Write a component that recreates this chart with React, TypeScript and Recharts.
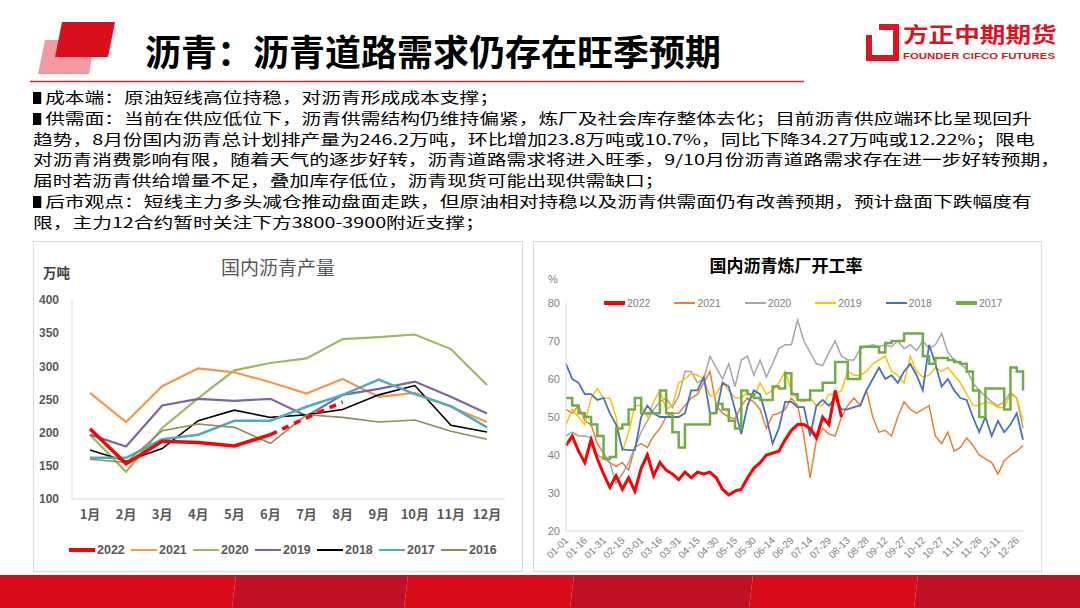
import React from "react";
import { LineChart, Line, XAxis, YAxis } from "recharts";

// ---- 国内沥青产量 (万吨) ----
const months = ["1月", "2月", "3月", "4月", "5月", "6月", "7月", "8月", "9月", "10月", "11月", "12月"];
const output2022 = [206, 153, 187, 185, 180, 197, null, null, null, null, null, null];
const output2022Plan = [null, null, null, null, null, 197, 222.4, 246.2, null, null, null, null];
const output2021 = [260, 216, 270, 297, 291, 276, 259, 281, 254, 260, 239, 216];
const output2020 = [197, 141, 207, 252, 294, 305, 312, 341, 344, 348, 326, 272];
const output2019 = [197, 179, 241, 251, 248, 251, 225, 257, 266, 277, 254, 229];
const output2018 = [174, 157, 176, 218, 234, 223, 227, 235, 257, 271, 211, 201];
const output2017 = [162, 162, 190, 197, 218, 218, 239, 257, 280, 258, 240, 208];
const output2016 = [160, 155, 203, 213, 208, 184, 227, 223, 216, 219, 202, 190];
const outputTicks = [100, 150, 200, 250, 300, 350, 400];

// ---- 国内沥青炼厂开工率 (%), sampled every 5 days ----
const rate2022 = [42.5, 45, 41, 38, 44, 39, 35, 31.5, 34.5, 31, 34, 30.5, 36.5, 40, 34.5, 38, 36, 35, 33.5, 35.5,
  34, 35.5, 35, 35.5, 34, 31, 29.5, 30.5, 31, 34, 36.5, 38, 40, 40.5, 41, 44, 46.5, 48, 48, 47, 44.5, 50, 48, 57, 50];
const rate2021 = [52, 51, 53, 49, 48, 43, 40.5, 38, 37, 38, 36, 42, 43, 42, 45, 47, 50, 51, 51, 53,
  55, 56, 59, 62, 53, 51, 50, 49.5, 53, 55, 54, 52, 47, 50.5, 51, 52, 55, 53, 45, 34,
  44, 47, 45.5, 45, 50, 53, 55, 53, 57, 50, 46, 46.5, 45, 50, 54, 52, 51, 52, 53, 45,
  43, 46, 41, 42, 44.5, 42.5, 40, 39, 38, 35, 38.5, 40, 41, 42.5];
const rate2020 = [45, 46, 45, 45, 44.5, 40, 39, 38, 32.5, 35, 38, 42, 46, 49, 52, 54, 55, 52.5, 55.5, 62,
  62, 59, 60, 66, 63, 60, 64, 58, 65, 66, 61, 65, 60.5, 64, 68, 69, 69, 75.5, 70, 67,
  64, 63.5, 67, 70, 66, 65, 65, 68, 68.5, 69, 68.5, 69, 68.5, 70, 68, 69, 67.5, 70, 68, 69,
  72, 67, 65, 64, 62.5, 59, 57, 55.5, 54, 53, 54, 56.5, 55, 47];
const rate2019 = [48, 52, 50, 48, 55, 57.5, 55, 55, 50, 41, 46, 53, 53, 50, 54, 57, 52, 53, 59, 60,
  61.5, 61, 60, 55.5, 56, 59, 57, 55, 55, 56.5, 55, 59, 56, 57, 59, 62, 57, 54.5, 54, 55,
  53, 53, 56, 56, 57, 62, 61, 61, 62, 64, 65, 66, 62, 61, 59, 66, 62, 60.5, 61, 63,
  62, 63, 61, 59, 56, 53, 53, 54, 53.5, 52.5, 52.5, 56, 55, 49];
const rate2018 = [64, 60, 59, 56, 56, 54.5, 55, 51, 48, 41.5, 41.3, 41.3, 50, 53, 51, 50, 50, 50, 50, 51,
  57, 57, 60.5, 51, 51, 59, 58, 52, 45.5, 53, 57, 56, 50, 43, 47, 54, 54, 52.6, 52.6, 45,
  53, 54.5, 53, 55, 52, 52, 52.6, 53, 57, 60, 63, 60, 61, 59, 62, 64, 61, 57, 69, 64,
  58, 60, 57, 55, 54.5, 50, 46, 50, 45, 49, 46, 48, 51, 44];
const rate2017 = [55, 53, 51, 50, 48, 45, 39, 39.5, 47, 48, 52, 55, 51, 51, 51, 57, 51, 46, 42, 48,
  48, 48, 48, 51, 53.5, 52, 49, 47, 57, 56, 55, 54.5, 54.5, 58, 57.5, 61.5, 56, 54.5, 54.5, 57,
  57, 59, 59, 64.5, 64.5, 60, 60, 68.5, 68.5, 68.5, 67, 69.5, 70, 70, 72, 72, 72, 66, 64, 65.5,
  65.5, 65, 64.5, 64, 62, 57, 50, 57.5, 57.5, 57.5, 52, 63, 62, 57];
const dayTicks = [0, 15, 30, 45, 60, 75, 90, 105, 120, 135, 150, 165, 180, 195, 210, 225, 240, 255, 270, 285, 300, 315, 330, 345, 360];
const dateLabels = ["01-01", "01-16", "01-31", "02-15", "03-01", "03-16", "03-31", "04-15", "04-30", "05-15", "05-30", "06-14", "06-29",
  "07-14", "07-29", "08-13", "08-28", "09-12", "09-27", "10-12", "10-27", "11-11", "11-26", "12-11", "12-26"];
const rateTicks = [20, 30, 40, 50, 60, 70, 80];
const sampleStep = 5;

const outputSeries = [
  { key: "y2021", name: "2021", color: "#F79646", width: 2.2, values: output2021 },
  { key: "y2020", name: "2020", color: "#9BBB59", width: 2.2, values: output2020 },
  { key: "y2019", name: "2019", color: "#8064A2", width: 2.2, values: output2019 },
  { key: "y2018", name: "2018", color: "#000000", width: 1.6, values: output2018 },
  { key: "y2017", name: "2017", color: "#4BACC6", width: 2.5, values: output2017 },
  { key: "y2016", name: "2016", color: "#948A54", width: 1.6, values: output2016 },
];

const rateSeries = [
  { key: "r2021", name: "2021", color: "#ED7D31", width: 1.5, values: rate2021, type: "linear" },
  { key: "r2020", name: "2020", color: "#A5A5A5", width: 1.5, values: rate2020, type: "linear" },
  { key: "r2019", name: "2019", color: "#FFC000", width: 1.5, values: rate2019, type: "linear" },
  { key: "r2018", name: "2018", color: "#4472C4", width: 1.8, values: rate2018, type: "linear" },
  { key: "r2017", name: "2017", color: "#70AD47", width: 2.5, values: rate2017, type: "stepAfter" },
];

const outputRows = months.map((m, i) => {
  const row: any = { m, y2022: output2022[i], plan: output2022Plan[i] };
  outputSeries.forEach((s) => (row[s.key] = s.values[i]));
  return row;
});

const rateRows = rate2021.map((_, i) => {
  const row: any = { day: i * sampleStep, r2022: i < rate2022.length ? rate2022[i] : null };
  rateSeries.forEach((s) => (row[s.key] = s.values[i]));
  return row;
});

const leftLegend = [{ name: "2022", color: "#FF0000", width: 4 }, ...outputSeries];
const rightLegend = [{ name: "2022", color: "#FF0000", width: 4 }, ...rateSeries.map((s) => ({ ...s, width: s.width + 1 }))];

const bodyLines = [
  { mark: true, text: "成本端：原油短线高位持稳，对沥青形成成本支撑；" },
  { mark: true, text: "供需面：当前在供应低位下，沥青供需结构仍维持偏紧，炼厂及社会库存整体去化；目前沥青供应端环比呈现回升" },
  { mark: false, text: "趋势，8月份国内沥青总计划排产量为246.2万吨，环比增加23.8万吨或10.7%，同比下降34.27万吨或12.22%；限电" },
  { mark: false, text: "对沥青消费影响有限，随着天气的逐步好转，沥青道路需求将进入旺季，9/10月份沥青道路需求存在进一步好转预期，" },
  { mark: false, text: "届时若沥青供给增量不足，叠加库存低位，沥青现货可能出现供需缺口；" },
  { mark: true, text: "后市观点：短线主力多头减仓推动盘面走跌，但原油相对持稳以及沥青供需面仍有改善预期，预计盘面下跌幅度有" },
  { mark: false, text: "限，主力12合约暂时关注下方3800-3900附近支撑；" },
];

const cjk = '"Noto Sans CJK SC", "Noto Sans", sans-serif';
const latin = '"Liberation Sans", "Noto Sans CJK SC", sans-serif';

const DateTick = (props: any) => {
  const { x, y, payload } = props;
  const label = dateLabels[dayTicks.indexOf(payload.value)];
  return (
    <g transform={`translate(${x + 3},${y + 8})`}>
      <text x={0} y={0} textAnchor="end" fill="#808080" fontSize={10} fontFamily={latin} transform="rotate(-45)">
        {label}
      </text>
    </g>
  );
};

const abs = (left: number, top: number, extra: React.CSSProperties = {}): React.CSSProperties => ({
  position: "absolute",
  left,
  top,
  ...extra,
});

const App = () => {
  return (
    <div style={{ position: "absolute", left: 0, top: 0, width: 1080, height: 608, background: "#fff", overflow: "hidden", fontFamily: cjk }}>
      {/* header */}
      <svg width={1080} height={90} style={abs(0, 0)}>
        <polygon points="45,40 95,40 89,74 38,74" fill="#F59AA0" />
        <polygon points="62,22 115,22 108,57 55,57" fill="#D9101C" />
        <polyline points="879,27 896,27 896,58 869,58 869,35" fill="none" stroke="#E0141E" strokeWidth={6} />
        <line x1={30} y1={81.5} x2={804} y2={81.5} stroke="#E0202A" strokeWidth={1.5} />
      </svg>
      <div style={abs(145, 29, { fontSize: 36, fontWeight: 700, lineHeight: "42px", color: "#000", whiteSpace: "nowrap" })}>
        沥青：沥青道路需求仍存在旺季预期
      </div>
      <div style={abs(903, 21, { fontSize: 21, fontWeight: 700, lineHeight: "24px", color: "#E0141E", whiteSpace: "nowrap", transform: "scaleX(1.22)", transformOrigin: "left" })}>
        方正中期期货
      </div>
      <div style={abs(903, 50, { fontSize: 9.5, fontWeight: 700, lineHeight: "12px", color: "#E0141E", whiteSpace: "nowrap", fontFamily: latin, transform: "scaleX(1.2)", transformOrigin: "left" })}>
        FOUNDER CIFCO FUTURES
      </div>

      {/* body text */}
      {bodyLines.map((l, i) => (
        <div
          key={i}
          style={abs(33, 87 + i * 20.8, {
            fontSize: 14.3,
            lineHeight: "20px",
            height: 20,
            color: "#000",
            whiteSpace: "nowrap",
            transform: "scaleX(1.38)",
            transformOrigin: "left center",
          })}
        >
          {l.mark && (
            <span style={{ display: "inline-block", width: 6, height: 12, background: "#000", marginRight: 2.8, verticalAlign: "-1px" }} />
          )}
          {l.text}
        </div>
      ))}

      {/* left chart */}
      <div style={abs(33, 241, { width: 490, height: 331 })}>
        <LineChart width={490} height={331} data={outputRows} margin={{ top: 59, right: 18, bottom: 0, left: 0 }}>
          <XAxis
            dataKey="m"
            height={73}
            padding={{ left: 18, right: 18 }}
            tickLine={false}
            tickSize={0}
            tickMargin={11}
            axisLine={{ stroke: "#D9D9D9" }}
            tick={{ fill: "#595959", fontSize: 13, fontWeight: 700, fontFamily: cjk }}
            interval={0}
          />
          <YAxis
            width={39}
            domain={[100, 400]}
            ticks={outputTicks}
            tickLine={false}
            tickSize={0}
            tickMargin={13}
            axisLine={{ stroke: "#D9D9D9" }}
            tick={{ fill: "#595959", fontSize: 12, fontWeight: 700, fontFamily: latin }}
          />
          {outputSeries.map((s) => (
            <Line key={s.key} dataKey={s.key} stroke={s.color} strokeWidth={s.width} dot={false} isAnimationActive={false} />
          ))}
          <Line dataKey="y2022" stroke="#FF0000" strokeWidth={3.5} dot={false} isAnimationActive={false} />
          <Line dataKey="plan" stroke="#FF0000" strokeWidth={3.5} strokeDasharray="7 6" dot={false} isAnimationActive={false} />
        </LineChart>
      </div>
      <div style={abs(33, 241, { width: 490, height: 331, border: "1px solid #D9D9D9", boxSizing: "border-box", pointerEvents: "none" })} />
      <div style={abs(178, 253, { width: 200, textAlign: "center", fontSize: 19, lineHeight: "28px", color: "#595959" })}>国内沥青产量</div>
      <div style={abs(43, 263, { fontSize: 13.5, fontWeight: 700, lineHeight: "18px", color: "#404040" })}>万吨</div>
      {leftLegend.map((s, i) => (
        <div key={s.name} style={abs(69 + i * 62, 542, { display: "flex", alignItems: "center", height: 16 })}>
          <span style={{ display: "inline-block", width: 26, height: s.width, background: s.color }} />
          <span style={{ marginLeft: 2, fontSize: 12.5, fontWeight: 700, color: "#595959", fontFamily: latin }}>{s.name}</span>
        </div>
      ))}

      {/* right chart */}
      <div style={abs(533, 241, { width: 509, height: 331 })}>
        <LineChart width={509} height={331} data={rateRows} margin={{ top: 62, right: 19, bottom: 0, left: 0 }}>
          <XAxis
            dataKey="day"
            type="number"
            domain={[0, 365]}
            ticks={dayTicks}
            interval={0}
            height={41}
            tickLine={false}
            tickSize={0}
            axisLine={{ stroke: "#D9D9D9" }}
            tick={<DateTick />}
          />
          <YAxis
            width={33}
            domain={[20, 80]}
            ticks={rateTicks}
            tickLine={false}
            tickSize={0}
            tickMargin={6}
            axisLine={{ stroke: "#D9D9D9" }}
            tick={{ fill: "#808080", fontSize: 11, fontFamily: latin }}
          />
          {rateSeries.map((s) => (
            <Line key={s.key} type={s.type as any} dataKey={s.key} stroke={s.color} strokeWidth={s.width} dot={false} isAnimationActive={false} />
          ))}
          <Line dataKey="r2022" stroke="#FF0000" strokeWidth={3} dot={false} isAnimationActive={false} />
        </LineChart>
      </div>
      <div style={abs(533, 241, { width: 509, height: 331, border: "1px solid #D9D9D9", boxSizing: "border-box", pointerEvents: "none" })} />
      <div style={abs(686, 252, { width: 200, textAlign: "center", fontSize: 17, fontWeight: 700, lineHeight: "26px", color: "#000" })}>
        国内沥青炼厂开工率
      </div>
      <div style={abs(548, 272, { fontSize: 11, lineHeight: "14px", color: "#808080", fontFamily: latin })}>%</div>
      {rightLegend.map((s, i) => (
        <div key={s.name} style={abs(604 + i * 70.4, 296, { display: "flex", alignItems: "center", height: 14 })}>
          <span style={{ display: "inline-block", width: 21, height: Math.min(s.width, 3.5), background: s.color }} />
          <span style={{ marginLeft: 2, fontSize: 10.5, color: "#808080", fontFamily: latin }}>{s.name}</span>
        </div>
      ))}

      {/* footer band */}
      <svg width={1080} height={33} style={abs(0, 575)}>
        <polygon points="0,0 236,0 232,33 0,33" fill="#D80C18" />
        <polygon points="236,0 408,0 404,33 232,33" fill="#C10F26" />
        <polygon points="408,0 574,0 570,33 404,33" fill="#D80C18" />
        <polygon points="574,0 753,0 749,33 570,33" fill="#C10F26" />
        <polygon points="753,0 918,0 914,33 749,33" fill="#D80C18" />
        <polygon points="918,0 1080,0 1080,33 914,33" fill="#C10F26" />
      </svg>
    </div>
  );
};

export default App;
